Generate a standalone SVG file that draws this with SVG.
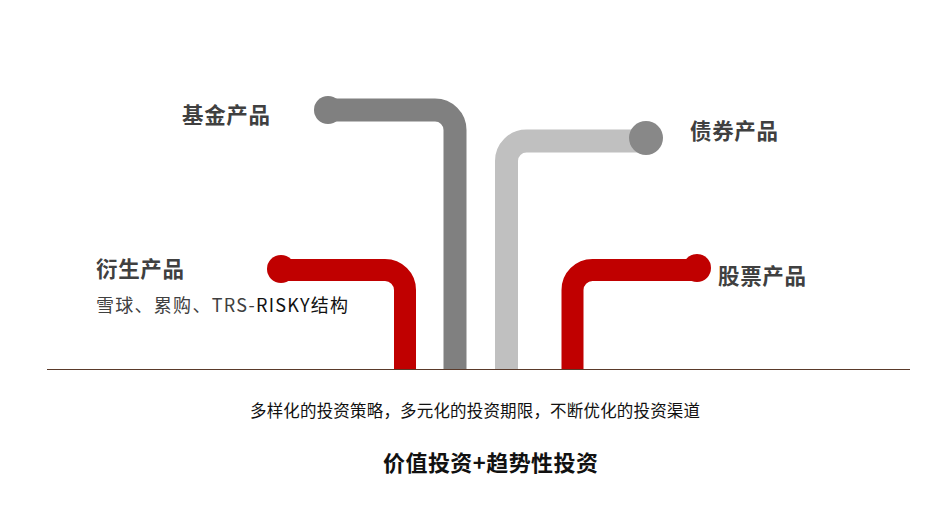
<svg xmlns="http://www.w3.org/2000/svg" width="942" height="529" viewBox="0 0 942 529">
<style>
  .pipe { fill: none; stroke-linecap: butt; stroke-linejoin: round; }
  .title { font-family: "Noto Sans CJK SC", "Liberation Sans", sans-serif; font-weight: bold; font-size: 21.5px; fill: #404040; }
  .sub { font-family: "Noto Sans CJK SC", "Liberation Sans", sans-serif; font-size: 18px; fill: #404040; }
  .cap { font-family: "Noto Sans CJK SC", "Liberation Sans", sans-serif; font-size: 16.5px; fill: #111; }
  .main { font-family: "Noto Sans CJK SC", "Liberation Sans", sans-serif; font-weight: bold; font-size: 22px; fill: #111; }
</style>
<rect width="942" height="529" fill="#ffffff"/>
<g id="connectors">
  <path class="pipe" d="M328,110 H435 A20,20 0 0 1 455,130 V370" stroke="#808080" stroke-width="23"/>
  <circle cx="328" cy="110" r="14" fill="#808080"/>
  <path class="pipe" d="M281,270 H385 A20,20 0 0 1 405,290 V370" stroke="#c00000" stroke-width="22"/>
  <circle cx="281" cy="269" r="14" fill="#c00000"/>
  <path class="pipe" d="M506.5,370 V161 A20,20 0 0 1 526.5,141 H646" stroke="#c0c0c0" stroke-width="23"/>
  <circle cx="646" cy="138" r="17" fill="#888888"/>
  <path class="pipe" d="M572.5,370 V290 A20,20 0 0 1 592.5,270 H697" stroke="#c00000" stroke-width="22"/>
  <circle cx="697" cy="268" r="14" fill="#c00000"/>
  <line x1="47" y1="369.5" x2="910" y2="369.5" stroke="#5a3a2a" stroke-width="1"/>
</g>
<g id="fund">
  <text class="title" x="182" y="123" textLength="88">基金产品</text>
</g>
<g id="bond">
  <text class="title" x="690" y="139" textLength="88">债券产品</text>
</g>
<g id="derivative">
  <text class="title" x="96" y="277" textLength="88">衍生产品</text>
  <text class="sub" x="96" y="312" textLength="252">雪球、累购、TRS-<tspan fill="#111">RISKY结构</tspan></text>
</g>
<g id="stock">
  <text class="title" x="718" y="284" textLength="88">股票产品</text>
</g>
<g id="summary">
  <text class="cap" x="250" y="417" textLength="450">多样化的投资策略，多元化的投资期限，不断优化的投资渠道</text>
  <text class="main" x="383" y="471" textLength="215">价值投资+趋势性投资</text>
</g>
</svg>
